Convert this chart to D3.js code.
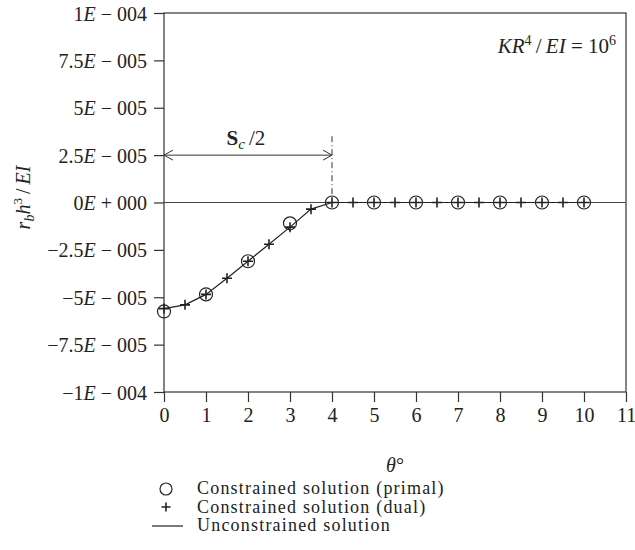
<!DOCTYPE html>
<html>
<head>
<meta charset="utf-8">
<script src="https://cdn.jsdelivr.net/npm/d3@7"></script>
<style>
  body { margin: 0; background: #fff; }
  text { font-family: "Liberation Serif", "DejaVu Serif", serif; fill: #222; }
</style>
</head>
<body>
<div id="chart"></div>
<script>
// primal solution (circles) at whole degrees
var primalTheta = [0, 1, 2, 3, 4, 5, 6, 7, 8, 9, 10];
var primalValue = [-5.75e-5, -4.85e-5, -3.1e-5, -1.1e-5, 0, 0, 0, 0, 0, 0, 0];

// dual solution (plus) at half degrees
var dualTheta = [0, 0.5, 1, 1.5, 2, 2.5, 3, 3.5, 4, 4.5, 5, 5.5, 6, 6.5, 7, 7.5, 8, 8.5, 9, 9.5, 10];
var dualValue = [-5.6e-5, -5.4e-5, -4.85e-5, -4.0e-5, -3.1e-5, -2.2e-5, -1.3e-5, -0.35e-5,
                 0, 0, 0, 0, 0, 0, 0, 0, 0, 0, 0, 0, 0];

// unconstrained solution (line) - follows the dual points
var lineTheta = dualTheta;
var lineValue = dualValue;

var xTicks = [0, 1, 2, 3, 4, 5, 6, 7, 8, 9, 10, 11];
var yTicks = [1e-4, 7.5e-5, 5e-5, 2.5e-5, 0, -2.5e-5, -5e-5, -7.5e-5, -1e-4];
var yTickMant = ["1", "7.5", "5", "2.5", "0", "\u22122.5", "\u22125", "\u22127.5", "\u22121"];
var yTickExp = ["\u2212 004", "\u2212 005", "\u2212 005", "\u2212 005", "+ 000", "\u2212 005", "\u2212 005", "\u2212 005", "\u2212 004"];

var legendText = ["Constrained solution (primal)", "Constrained solution (dual)", "Unconstrained solution"];

var width = 635, height = 550;
var plotLeft = 164, plotRight = 626, plotTop = 13, plotBottom = 392;
var fs = "20px";

var svg = d3.select("#chart").append("svg")
  .attr("width", width).attr("height", height);

var x = d3.scaleLinear().domain([0, 11]).range([plotLeft, plotRight]);
var y = d3.scaleLinear().domain([-1e-4, 1e-4]).range([plotBottom, plotTop]);

// frame
svg.append("rect")
  .attr("x", plotLeft).attr("y", plotTop)
  .attr("width", plotRight - plotLeft).attr("height", plotBottom - plotTop)
  .attr("fill", "none").attr("stroke", "#333").attr("stroke-width", 1.2);

// zero line
svg.append("line")
  .attr("x1", x(0)).attr("x2", x(11))
  .attr("y1", y(0)).attr("y2", y(0))
  .attr("stroke", "#444").attr("stroke-width", 1.2);

// x axis
var xAxis = svg.append("g")
  .attr("transform", "translate(0," + plotBottom + ")")
  .call(d3.axisBottom(x).tickValues(xTicks).tickSize(10).tickPadding(6).tickFormat(d3.format("d")));
xAxis.select(".domain").remove();
xAxis.selectAll("line").attr("stroke", "#333").attr("stroke-width", 1.2);
xAxis.selectAll("text").style("font-size", fs).attr("fill", "#222")
  .style("font-family", "Liberation Serif, serif");

// y axis
var yAxis = svg.append("g")
  .attr("transform", "translate(" + plotLeft + ",0)")
  .call(d3.axisLeft(y).tickValues(yTicks).tickSize(10).tickPadding(6).tickFormat(""));
yAxis.select(".domain").remove();
yAxis.selectAll("line").attr("stroke", "#333").attr("stroke-width", 1.2);
yAxis.selectAll(".tick").each(function(d, i) {
  var t = d3.select(this).append("text")
    .attr("x", -17).attr("dy", "0.35em")
    .attr("text-anchor", "end")
    .style("font-size", fs).style("font-family", "Liberation Serif, serif").attr("fill", "#222");
  t.append("tspan").text(yTickMant[i]);
  t.append("tspan").attr("font-style", "italic").text("E");
  t.append("tspan").text(" " + yTickExp[i]);
});

// unconstrained line
var line = d3.line().x(function(d) { return x(d[0]); }).y(function(d) { return y(d[1]); });
svg.append("path")
  .datum(d3.zip(lineTheta, lineValue))
  .attr("d", line)
  .attr("fill", "none").attr("stroke", "#222").attr("stroke-width", 1.2);

// primal circles
svg.selectAll(".primal").data(d3.zip(primalTheta, primalValue)).enter().append("circle")
  .attr("cx", function(d) { return x(d[0]); })
  .attr("cy", function(d) { return y(d[1]); })
  .attr("r", 6.5)
  .attr("fill", "none").attr("stroke", "#222").attr("stroke-width", 1.2);

// dual plus markers
svg.selectAll(".dual").data(d3.zip(dualTheta, dualValue)).enter().append("path")
  .attr("transform", function(d) { return "translate(" + x(d[0]) + "," + y(d[1]) + ")"; })
  .attr("d", "M-5,0H5M0,-5V5")
  .attr("fill", "none").attr("stroke", "#222").attr("stroke-width", 1.6);

// S_c/2 annotation
var arrowY = y(2.5e-5);
svg.append("line")
  .attr("x1", x(0)).attr("x2", x(4))
  .attr("y1", arrowY).attr("y2", arrowY)
  .attr("stroke", "#333").attr("stroke-width", 1);
svg.append("path")
  .attr("d", "M" + (x(0) + 9) + "," + (arrowY - 5) + "L" + x(0) + "," + arrowY + "L" + (x(0) + 9) + "," + (arrowY + 5))
  .attr("fill", "none").attr("stroke", "#333").attr("stroke-width", 1);
svg.append("path")
  .attr("d", "M" + (x(4) - 9) + "," + (arrowY - 5) + "L" + x(4) + "," + arrowY + "L" + (x(4) - 9) + "," + (arrowY + 5))
  .attr("fill", "none").attr("stroke", "#333").attr("stroke-width", 1);
svg.append("line")
  .attr("x1", x(4)).attr("x2", x(4))
  .attr("y1", y(3.5e-5)).attr("y2", y(0))
  .attr("stroke", "#333").attr("stroke-width", 1)
  .attr("stroke-dasharray", "6,3,1,3");

var sc = svg.append("text")
  .attr("x", x(1.95)).attr("y", arrowY - 10)
  .attr("text-anchor", "middle").style("font-size", "21px");
sc.append("tspan").attr("font-weight", "bold").text("S");
sc.append("tspan").attr("font-style", "italic").attr("dy", 4).style("font-size", "15px").text("c");
sc.append("tspan").attr("dy", -4).text("\u2009/2");

// KR^4/EI label
var kr = svg.append("text")
  .attr("x", plotRight - 10).attr("y", 53)
  .attr("text-anchor", "end").style("font-size", "21px");
kr.append("tspan").attr("font-style", "italic").text("KR");
kr.append("tspan").attr("dy", -8).style("font-size", "14px").text("4");
kr.append("tspan").attr("dy", 8).text("\u2009/\u2009");
kr.append("tspan").attr("font-style", "italic").text("EI");
kr.append("tspan").text(" = 10");
kr.append("tspan").attr("dy", -8).style("font-size", "14px").text("6");

// y label
var yl = svg.append("text")
  .attr("transform", "translate(30," + (y(0) - 5) + ") rotate(-90)")
  .attr("text-anchor", "middle").style("font-size", "20px");
yl.append("tspan").attr("font-style", "italic").text("r");
yl.append("tspan").attr("font-style", "italic").attr("dy", 4).style("font-size", "14px").text("b");
yl.append("tspan").attr("font-style", "italic").attr("dy", -4).text("h");
yl.append("tspan").attr("dy", -8).style("font-size", "13px").text("3");
yl.append("tspan").attr("dy", 8).text("\u2009/\u2009");
yl.append("tspan").attr("font-style", "italic").text("EI");

// x label
var xl = svg.append("text")
  .attr("x", x(5.5)).attr("y", 472)
  .attr("text-anchor", "middle").style("font-size", fs);
xl.append("tspan").attr("font-style", "italic").text("\u03b8");
xl.append("tspan").text("\u00b0");

// legend
var legend = svg.append("g");
legend.append("circle").attr("cx", 166).attr("cy", 489).attr("r", 6)
  .attr("fill", "none").attr("stroke", "#222").attr("stroke-width", 1.2);
legend.append("path").attr("transform", "translate(166,507)")
  .attr("d", "M-4.5,0H4.5M0,-4.5V4.5").attr("stroke", "#222").attr("stroke-width", 1.6);
legend.append("line").attr("x1", 152).attr("x2", 183).attr("y1", 526).attr("y2", 526)
  .attr("stroke", "#222").attr("stroke-width", 1.2);
legend.selectAll(".lt").data(legendText).enter().append("text")
  .attr("x", 197).attr("y", function(d, i) { return 494 + i * 18.5; })
  .style("font-size", "18px").style("letter-spacing", "1.2px")
  .text(function(d) { return d; });
</script>
</body>
</html>
